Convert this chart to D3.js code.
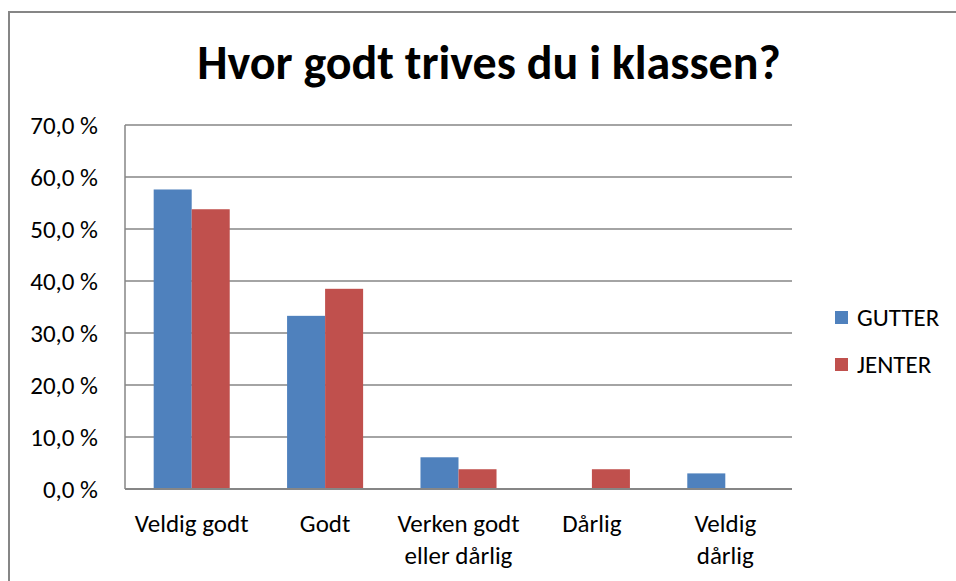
<!DOCTYPE html>
<html>
<head>
<meta charset="utf-8">
<script src="https://cdn.jsdelivr.net/npm/d3@7"></script>
<style>
  body { margin: 0; background: #fff; }
  svg text { font-family: Carlito, Calibri, Lato, sans-serif; fill: #000; }
</style>
</head>
<body>
<script>
// Data (percent)
var categories = ["Veldig godt", "Godt", "Verken godt eller dårlig", "Dårlig", "Veldig dårlig"];
var categoryLines = [["Veldig godt"], ["Godt"], ["Verken godt", "eller dårlig"], ["Dårlig"], ["Veldig", "dårlig"]];
var seriesNames = ["GUTTER", "JENTER"];
var gutter = [57.6, 33.3, 6.1, 0, 3.0];
var jenter = [53.8, 38.5, 3.8, 3.8, 0];
var yTicks = [0, 10, 20, 30, 40, 50, 60, 70];
var colors = ["#4F81BD", "#C0504D"];

var W = 956, H = 581;
var plot = {left: 125, right: 792, top: 125, bottom: 489};

var svg = d3.select("body").append("svg")
  .attr("width", W)
  .attr("height", H);

// outer chart frame (cut off at right / bottom like the source)
svg.append("rect")
  .attr("x", 9).attr("y", 12)
  .attr("width", W + 20).attr("height", H + 20)
  .attr("fill", "none")
  .attr("stroke", "#868686")
  .attr("stroke-width", 2);

// title
svg.append("text")
  .attr("x", 489).attr("y", 79)
  .attr("text-anchor", "middle")
  .style("font-size", "48px")
  .style("font-weight", "bold")
  .text("Hvor godt trives du i klassen?");

// scales
var x = d3.scaleBand()
  .domain(categories)
  .range([plot.left, plot.right])
  .paddingInner(0.43)
  .paddingOuter(0.215);

var xSub = d3.scaleBand()
  .domain(seriesNames)
  .range([0, x.bandwidth()]);

var y = d3.scaleLinear()
  .domain([0, 70])
  .range([plot.bottom, plot.top]);

// gridlines
svg.append("g")
  .selectAll("line")
  .data(yTicks)
  .join("line")
    .attr("x1", plot.left).attr("x2", plot.right)
    .attr("y1", function(d) { return y(d); })
    .attr("y2", function(d) { return y(d); })
    .attr("stroke", "#868686")
    .attr("stroke-width", 1.5);

// y axis labels
var yAxis = d3.axisLeft(y)
  .tickValues(yTicks)
  .tickSize(0)
  .tickPadding(27)
  .tickFormat(function(d) { return d.toFixed(1).replace(".", ",") + " %"; });

var yG = svg.append("g")
  .attr("transform", "translate(" + plot.left + ",0)")
  .call(yAxis);
yG.select(".domain").remove();
yG.selectAll("text")
  .style("font-family", "Carlito, Calibri, Lato, sans-serif")
  .style("font-size", "25px")
  .attr("fill", "#000");

// bars
var rows = categories.map(function(c, i) {
  return {cat: c, values: [gutter[i], jenter[i]]};
});

var groups = svg.append("g")
  .selectAll("g")
  .data(rows)
  .join("g")
    .attr("transform", function(d) { return "translate(" + x(d.cat) + ",0)"; });

groups.selectAll("rect")
  .data(function(d) {
    return d.values.map(function(v, j) { return {name: seriesNames[j], value: v, j: j}; });
  })
  .join("rect")
    .attr("x", function(d) { return xSub(d.name); })
    .attr("width", xSub.bandwidth())
    .attr("y", function(d) { return y(d.value); })
    .attr("height", function(d) { return y(0) - y(d.value); })
    .attr("fill", function(d) { return colors[d.j]; });

// axis lines
svg.append("line")
  .attr("x1", plot.left).attr("x2", plot.left)
  .attr("y1", plot.top).attr("y2", plot.bottom)
  .attr("stroke", "#868686").attr("stroke-width", 1.5);
svg.append("line")
  .attr("x1", plot.left).attr("x2", plot.right)
  .attr("y1", plot.bottom).attr("y2", plot.bottom)
  .attr("stroke", "#868686").attr("stroke-width", 2);

// category labels
var catLabels = svg.append("g")
  .selectAll("text")
  .data(categories)
  .join("text")
    .attr("x", function(d) { return x(d) + x.bandwidth() / 2; })
    .attr("y", 532)
    .attr("text-anchor", "middle")
    .style("font-size", "25px");

catLabels.selectAll("tspan")
  .data(function(d, i) { return categoryLines[i]; })
  .join("tspan")
    .attr("x", function() { return d3.select(this.parentNode).attr("x"); })
    .attr("dy", function(d, i) { return i === 0 ? 0 : 32; })
    .text(function(d) { return d; });

// legend
var legend = svg.append("g")
  .selectAll("g")
  .data(seriesNames)
  .join("g")
    .attr("transform", function(d, i) { return "translate(835," + (311 + i * 47) + ")"; });

legend.append("rect")
  .attr("width", 13).attr("height", 13)
  .attr("fill", function(d, i) { return colors[i]; });

legend.append("text")
  .attr("x", 22).attr("y", 15)
  .style("font-size", "25px")
  .text(function(d) { return d; });
</script>
</body>
</html>
